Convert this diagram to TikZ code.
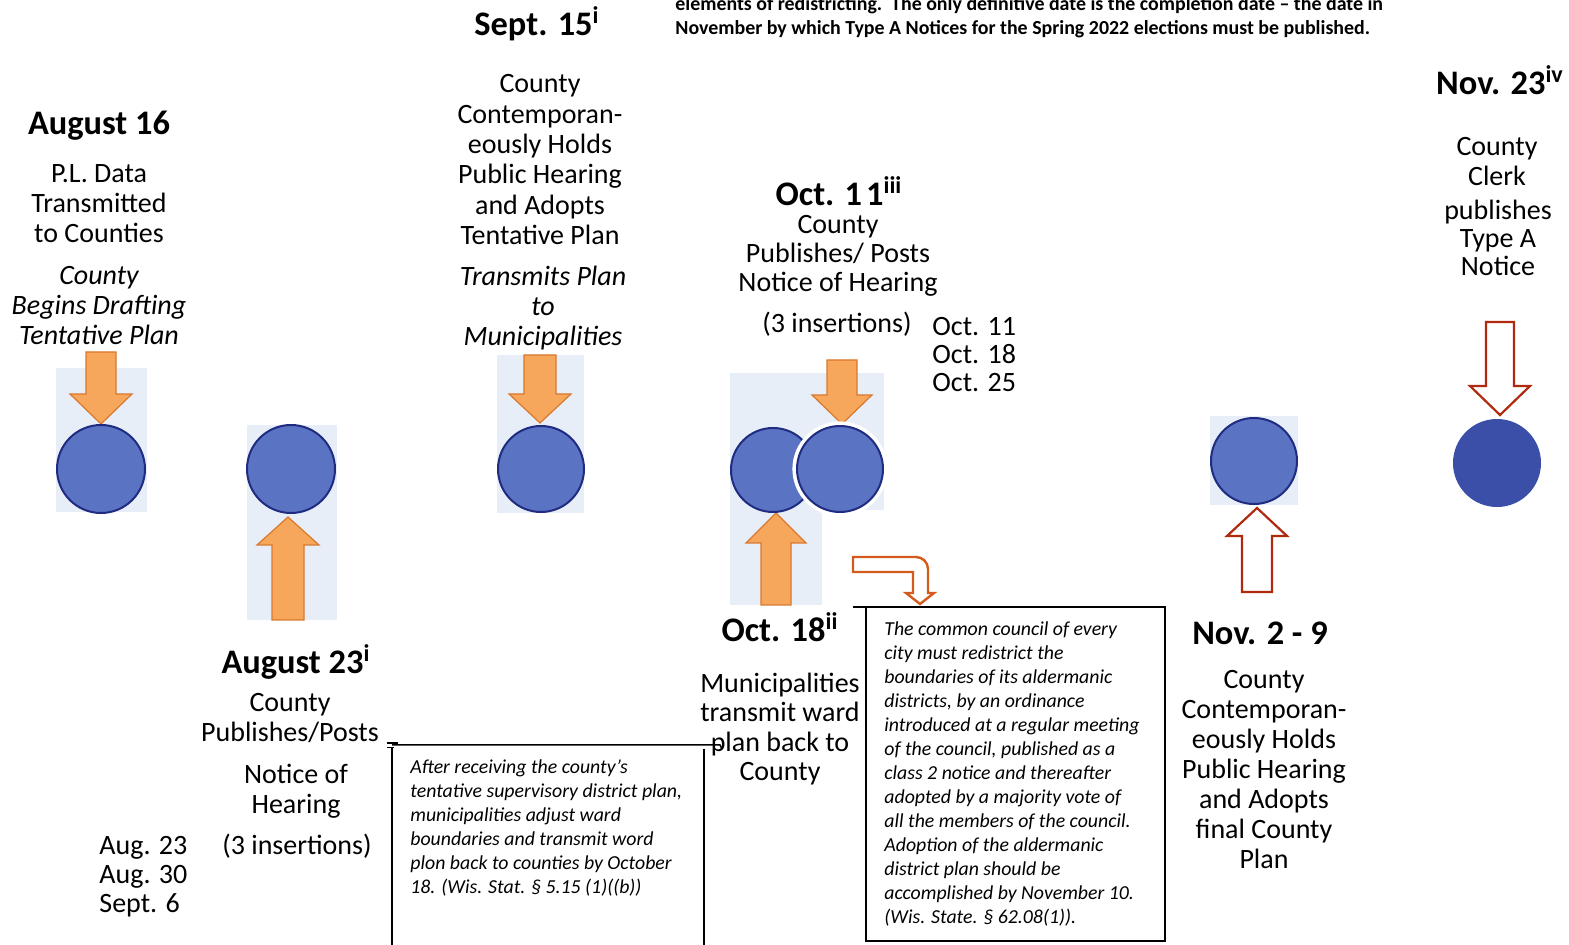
\documentclass[tikz,border=0pt]{standalone}
\usepackage{fontspec}
\setmainfont{Carlito}
\definecolor{dotfill}{HTML}{5B73C3}
\definecolor{dotedge}{HTML}{1F2C82}
\definecolor{dotsolid}{HTML}{3B4FA9}
\definecolor{bgblue}{HTML}{E8EEF8}
\definecolor{orfill}{HTML}{F6A75B}
\definecolor{oredge}{HTML}{D9782E}
\definecolor{redline}{HTML}{B02A10}
\definecolor{bendline}{HTML}{D55A1E}
\newcommand{\blockarrowshape}[7]{%
  \draw[#1] ({#2-#6},#5) -- ({#2-#6},#4) -- ({#2-#7},#4) -- (#2,#3) -- ({#2+#7},#4) -- ({#2+#6},#4) -- ({#2+#6},#5) -- cycle;}
\begin{document}
\begin{tikzpicture}[x=0.5pt,y=-0.5pt,
  hd/.style={font=\fontsize{17.2}{20}\selectfont\bfseries, inner sep=0, anchor=base},
  bd/.style={font=\fontsize{14}{15}\selectfont, align=center, inner sep=0, anchor=north},
  bdi/.style={font=\fontsize{14}{15}\selectfont\itshape, align=center, inner sep=0, anchor=north},
  note/.style={font=\fontsize{9.9}{12}\selectfont\itshape, align=left, inner sep=0, anchor=north west},
  toptext/.style={font=\fontsize{9.95}{11.5}\selectfont\bfseries, inner sep=0, anchor=base west},
  dot/.style={circle, fill=dotfill, draw=dotedge, line width=1pt, inner sep=0},
  orarrow/.style={fill=orfill, draw=oredge, line width=0.6pt, line join=miter},
  redarrow/.style={draw=redline, line width=1.1pt, fill=white, line join=miter},
  bendarrow/.style={draw=bendline, line width=1.2pt, fill=white, line join=miter},
  boxline/.style={draw=black, line width=0.75pt}]
\useasboundingbox (0,0) rectangle (1569,945);
\clip (0,0) rectangle (1569,945);
\fill[white] (0,0) rectangle (1569,945);

% top note
\node[toptext] (t1) at (675,11) {elements of redistricting.\ \ The only definitive date is the completion date – the date in};
\node[toptext] (t2) at (675,35) {November by which Type A Notices for the Spring 2022 elections must be published.};

% backgrounds
\fill[bgblue] (56,368) rectangle (147,512);
\fill[bgblue] (247,425) rectangle (337,620);
\fill[bgblue] (497,355) rectangle (584,513);
\fill[bgblue] (730,373) rectangle (884,510);
\fill[bgblue] (730,510) rectangle (822,605);
\fill[bgblue] (1210,416) rectangle (1298,505);

% block arrows
\blockarrowshape{orarrow}{101}{424}{394}{352}{15}{31}
\blockarrowshape{orarrow}{288}{517}{545}{620}{16}{31}
\blockarrowshape{orarrow}{540}{423}{394}{355}{16}{31}
\blockarrowshape{orarrow}{842}{424}{395}{360}{15}{30}
\blockarrowshape{orarrow}{776}{513}{543}{605}{15}{30}
\blockarrowshape{redarrow}{1257}{508}{536}{592}{15}{30}
\blockarrowshape{redarrow}{1500}{415}{386}{322}{14}{30}

% dots
\node[dot, minimum size=44pt] (d1) at (101,469) {};
\node[dot, minimum size=44pt] (d2) at (291,469) {};
\node[dot, minimum size=43pt] (d3) at (541,469) {};
\node[dot, minimum size=42pt] (d4a) at (773,470) {};
\fill[white] (840,469) circle[radius=23.8pt];
\node[dot, minimum size=43pt] (d4b) at (840,469) {};
\node[dot, minimum size=43pt] (d5) at (1254,461) {};
\node[circle, fill=dotsolid, inner sep=0, minimum size=44pt] (d6) at (1497,463) {};

% bent arrow
\draw[bendarrow] (853,557) -- (916,557) arc[start angle=90, end angle=0, radius=6pt] -- (928,593) -- (934,593) -- (920,604) -- (906,593) -- (913,593) -- (913,572) -- (853,572) -- cycle;

% box 1
\draw[boxline] (392,945) -- (392,748);
\draw[boxline] (392,745) -- (720,745) -- (722,749);
\draw[boxline] (704,749) -- (704,945);
\draw[boxline] (387,743) -- (398,743);
\draw[boxline] (387,747.5) -- (394,747.5);
% box 2
\draw[boxline] (853,607) -- (1165,607) -- (1165,941) -- (866,941) -- (866,607);

% headings
\node[hd] (h1) at (99,135) {August 16};
\node[hd] (h2) at (296,674) {August 23\textsuperscript{i}};
\node[hd] (h3) at (537,36) {Sept. 15\textsuperscript{i}};
\node[hd] (h4) at (839,206) {Oct. 1\kern2pt1\textsuperscript{iii}};
\node[hd] (h5) at (780,642) {Oct. 18\textsuperscript{ii}};
\node[hd] (h6) at (1260,645) {Nov. 2 - 9};
\node[hd] (h7) at (1500,95) {Nov. 23\textsuperscript{iv}};

% body texts
\node[bd] (b1) at (99,161) {\strut P.L. Data\\Transmitted\\to Counties};
\node[bdi] (b1i) at (99,263) {\strut County\\Begins Drafting\\Tentative Plan};
\node[bd] (b2a) at (290,690) {\strut County\\Publishes/Posts};
\node[bd] (b2b) at (296,762) {\strut Notice of\\Hearing};
\node[bd, anchor=base] (b2c) at (297,855) {(3 insertions)};
\node[bd, font=\fontsize{14}{14.5}\selectfont, align=left, anchor=north west] (b2d) at (99,834) {\strut Aug. 23\\Aug. 30\\Sept. 6};
\node[bd, font=\fontsize{14}{15.2}\selectfont] (b3) at (540,71) {\strut County\\Contemporan-\\eously Holds\\Public Hearing\\and Adopts\\Tentative Plan};
\node[bdi] (b3i) at (543,264) {\strut Transmits Plan\\to\\Municipalities};
\node[bd, font=\fontsize{14}{14.5}\selectfont] (b4) at (838,213) {\strut County\\Publishes/ Posts\\Notice of Hearing};
\node[bd, anchor=base] (b4b) at (837,333) {(3 insertions)};
\node[bd, font=\fontsize{14}{14}\selectfont, align=left, anchor=north west] (b4c) at (932,316) {\strut Oct. 11\\Oct. 18\\Oct. 25};
\node[bd, font=\fontsize{14}{14.8}\selectfont] (b5) at (780,671) {\strut Municipalities\\transmit ward\\plan back to\\County};
\node[bd] (b6) at (1264,667) {\strut County\\Contemporan-\\eously Holds\\Public Hearing\\and Adopts\\final County\\Plan};
\node[bd] (b7a) at (1497,134) {\strut County\\Clerk};
\node[bd, font=\fontsize{14}{14}\selectfont] (b7b) at (1498,200) {\strut publishes\\Type A\\Notice};

% notes
\node[note] (n1) at (410,756) {\strut After receiving the county’s\\tentative supervisory district plan,\\municipalities adjust ward\\boundaries and transmit word\\plon back to counties by October\\18. (Wis. Stat. § 5.15 (1)((b))};
\node[note] (n2) at (884,618) {\strut The common council of every\\city must redistrict the\\boundaries of its aldermanic\\districts, by an ordinance\\introduced at a regular meeting\\of the council, published as a\\class 2 notice and thereafter\\adopted by a majority vote of\\all the members of the council.\\Adoption of the aldermanic\\district plan should be\\accomplished by November 10.\\(Wis. State. § 62.08(1)).};
\end{tikzpicture}
\end{document}
